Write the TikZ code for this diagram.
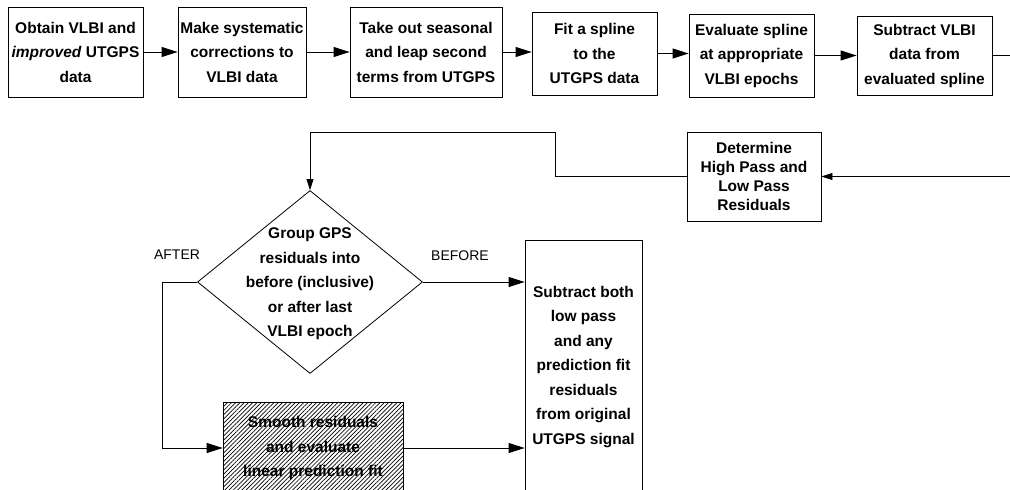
\documentclass[tikz,border=0pt]{standalone}
\usepackage{fontspec}
\setmainfont{Liberation Sans}
\usetikzlibrary{arrows.meta,shapes.geometric,patterns.meta}
\begin{document}
\begin{tikzpicture}[x=1pt,y=-1pt,
  box/.style={draw, line width=0.8pt, inner sep=0pt, align=center,
    font=\fontsize{15.5}{24.5}\selectfont\bfseries},
  lbl/.style={font=\fontsize{14}{16}\selectfont},
  conn/.style={line width=0.8pt},
  bigtip/.style={-{Triangle[length=16pt,width=10pt]}},
  smalltip/.style={-{Triangle[length=11pt,width=7pt]}}]
\useasboundingbox (0,0) rectangle (1010,490);
% top row
\node[box, minimum width=135pt, minimum height=90pt] (b1) at (75.5,52) {Obtain VLBI and\\\textit{improved} UTGPS\\data};
\node[box, minimum width=128pt, minimum height=90pt] (b2) at (242,52) {Make systematic\\corrections to\\VLBI data};
\node[box, minimum width=152pt, minimum height=90pt] (b3) at (426,52) {Take out seasonal\\and leap second\\terms from UTGPS};
\node[box, minimum width=125pt, minimum height=83pt] (b4) at (594.5,53.5) {Fit a spline\\to the\\UTGPS data};
\node[box, minimum width=125pt, minimum height=83pt] (b5) at (751.5,55.5) {Evaluate spline\\at appropriate\\VLBI epochs};
\node[box, minimum width=135pt, minimum height=79pt] (b6) at (924.5,55.5) {Subtract VLBI\\data from\\evaluated spline};
% second row
\node[box, minimum width=134pt, minimum height=89pt,
  font=\fontsize{15.5}{19}\selectfont\bfseries] (det) at (754,176.5) {Determine\\High Pass and\\Low Pass\\Residuals};
\node[draw, diamond, line width=0.8pt, minimum width=225pt, minimum height=183pt, inner sep=0pt] (dia) at (310,282) {};
\node[box, draw=none] (diat) at (310,284) {Group GPS\\residuals into\\before (inclusive)\\or after last\\VLBI epoch};
\node[box, minimum width=117pt, minimum height=254pt] (rb) at (583.5,367) {Subtract both\\low pass\\and any\\prediction fit\\residuals\\from original\\UTGPS signal};
\node[box, pattern={Lines[angle=45,distance=3pt,line width=0.7pt]},
  minimum width=180pt, minimum height=92pt] (hb) at (313,448) {Smooth residuals\\and evaluate\\linear prediction fit};
\node[lbl] (after) at (177,255) {AFTER};
\node[lbl] (before) at (460,256) {BEFORE};
% connectors
\draw[conn,bigtip] (b1.east) -- (b1.east -| b2.west);
\draw[conn,bigtip] (b2.east) -- (b2.east -| b3.west);
\draw[conn,bigtip] (b3.east) -- (b3.east -| b4.west);
\draw[conn,bigtip] (b4.east) -- (b4.east -| b5.west);
\draw[conn,bigtip] (b5.east) -- (b5.east -| b6.west);
\draw[conn,smalltip] (b6.east) -- (1040,55.5) |- (det.east);
\draw[conn,smalltip] (det.west) -| (555,132) -| (dia.north);
\draw[conn,bigtip] (dia.east) -- (dia.east -| rb.west);
\draw[conn,bigtip] (dia.west) -- (162,282) |- (hb.west);
\draw[conn,bigtip] (hb.east) -- (hb.east -| rb.west);
\end{tikzpicture}
\end{document}
